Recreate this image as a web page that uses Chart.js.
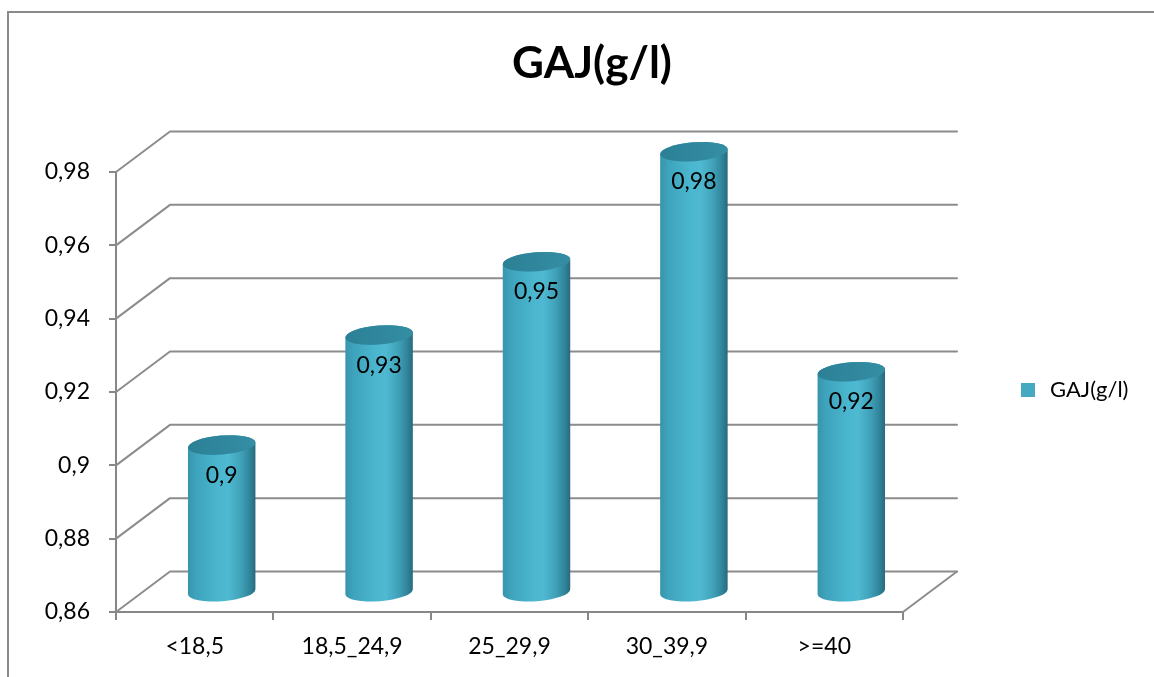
<!DOCTYPE html>
<html>
<head>
<meta charset="utf-8">
<script src="https://cdn.jsdelivr.net/npm/chart.js@4.4.1/dist/chart.umd.min.js"></script>
<style>
  html, body { margin: 0; padding: 0; background: #ffffff; }
  canvas { display: block; }
</style>
</head>
<body>
<canvas id="chart" width="1154" height="677"></canvas>
<script>
// Chart data
const categories = ['<18,5', '18,5_24,9', '25_29,9', '30_39,9', '>=40'];
const gajValues = [0.90, 0.93, 0.95, 0.98, 0.92];
const yTickValues = [0.86, 0.88, 0.90, 0.92, 0.94, 0.96, 0.98];
const seriesName = 'GAJ(g/l)';
const chartTitle = 'GAJ(g/l)';

// Styling
const FONT = 'Lato, "Open Sans", sans-serif';
const AXIS_GREY = '#878787';
const WALL_GREY = '#8c8c8c';
const LEGEND_COLOR = '#46a9c2';
const DEPTH_X = 54;      // horizontal depth of the 3D box
const DEPTH_Y = -40.5;   // vertical depth of the 3D box

function fmt(v) {
  return String(Number(v.toFixed(2))).replace('.', ',');
}

// Back wall, floor, cylinders, title, legend and outer frame
const box3d = {
  id: 'box3d',
  beforeDatasetsDraw(chart) {
    const { ctx, chartArea: a, scales: { y } } = chart;
    ctx.save();
    ctx.strokeStyle = WALL_GREY;
    ctx.lineWidth = 2;
    ctx.lineCap = 'round';
    ctx.lineJoin = 'round';
    yTickValues.forEach(v => {
      const py = y.getPixelForValue(v);
      ctx.beginPath();
      ctx.moveTo(a.left, py);
      ctx.lineTo(a.left + DEPTH_X, py + DEPTH_Y);
      ctx.lineTo(a.right + DEPTH_X, py + DEPTH_Y);
      ctx.stroke();
    });
    // right edge of the floor
    ctx.beginPath();
    ctx.moveTo(a.right, a.bottom);
    ctx.lineTo(a.right + DEPTH_X, a.bottom + DEPTH_Y);
    ctx.stroke();
    ctx.restore();
  },
  afterDatasetsDraw(chart) {
    const { ctx, scales: { y } } = chart;
    const meta = chart.getDatasetMeta(0);
    const rot = -0.08;
    const floorY = y.getPixelForValue(y.min);
    meta.data.forEach((el, i) => {
      const cx = el.x + DEPTH_X / 2;
      const rx = el.width / 2;
      const ry = 9.5;
      const top = el.y + DEPTH_Y / 2;
      const base = floorY + DEPTH_Y / 2;

      ctx.save();
      // body
      const g = ctx.createLinearGradient(cx - rx, 0, cx + rx, 0);
      g.addColorStop(0.00, '#3795ac');
      g.addColorStop(0.12, '#3ea3bc');
      g.addColorStop(0.45, '#4bb6cf');
      g.addColorStop(0.60, '#4eb9d1');
      g.addColorStop(0.78, '#40a2b9');
      g.addColorStop(0.92, '#30839a');
      g.addColorStop(1.00, '#276a7b');
      ctx.beginPath();
      ctx.ellipse(cx, base, rx, ry, rot, Math.PI, 0, true);
      ctx.ellipse(cx, top, rx, ry, rot, 0, Math.PI, true);
      ctx.closePath();
      ctx.fillStyle = g;
      ctx.fill();

      // top cap
      const gt = ctx.createLinearGradient(cx - rx, top, cx + rx, top);
      gt.addColorStop(0, '#2c8096');
      gt.addColorStop(1, '#348ea4');
      ctx.beginPath();
      ctx.ellipse(cx, top, rx, ry, rot, 0, Math.PI * 2);
      ctx.fillStyle = gt;
      ctx.fill();

      // value label
      ctx.fillStyle = '#000000';
      ctx.font = '23px ' + FONT;
      ctx.textAlign = 'center';
      ctx.textBaseline = 'middle';
      ctx.fillText(fmt(gajValues[i]), cx, el.y + 10);
      ctx.restore();
    });
  },
  afterDraw(chart) {
    const { ctx } = chart;
    ctx.save();
    // outer frame
    ctx.strokeStyle = '#8a8a8a';
    ctx.lineWidth = 2;
    ctx.beginPath();
    ctx.moveTo(8, 700);
    ctx.lineTo(8, 12);
    ctx.lineTo(1160, 12);
    ctx.stroke();

    // title
    ctx.fillStyle = '#000000';
    ctx.font = 'bold 44px ' + FONT;
    ctx.textAlign = 'center';
    ctx.textBaseline = 'alphabetic';
    ctx.fillText(chartTitle, 592, 78);

    // legend
    ctx.fillStyle = LEGEND_COLOR;
    ctx.fillRect(1021, 383, 14, 14);
    ctx.fillStyle = '#000000';
    ctx.font = '22px ' + FONT;
    ctx.textAlign = 'left';
    ctx.fillText(seriesName, 1050, 397);
    ctx.restore();
  }
};

new Chart(document.getElementById('chart'), {
  type: 'bar',
  data: {
    labels: categories,
    datasets: [{
      label: seriesName,
      data: gajValues,
      backgroundColor: 'rgba(0,0,0,0)',
      borderWidth: 0,
      barPercentage: 0.43,
      categoryPercentage: 1
    }]
  },
  options: {
    responsive: false,
    animation: false,
    layout: { padding: { left: 0, top: 172, right: 251, bottom: 0 } },
    plugins: {
      legend: { display: false },
      title: { display: false },
      tooltip: { enabled: false }
    },
    scales: {
      x: {
        afterFit(scale) { scale.height = 65; },
        grid: {
          display: true,
          offset: true,
          drawOnChartArea: false,
          drawTicks: true,
          tickLength: 8,
          color: AXIS_GREY,
          lineWidth: 2
        },
        border: { display: true, color: AXIS_GREY, width: 2 },
        ticks: {
          color: '#000000',
          font: { family: FONT, size: 23 },
          padding: 13,
          maxRotation: 0
        }
      },
      y: {
        min: 0.86,
        max: 0.98,
        afterFit(scale) { scale.width = 116; },
        afterBuildTicks(scale) {
          scale.ticks = yTickValues.map(v => ({ value: v }));
        },
        grid: {
          display: true,
          drawOnChartArea: false,
          drawTicks: true,
          tickLength: 7,
          color: AXIS_GREY,
          lineWidth: 2
        },
        border: { display: true, color: AXIS_GREY, width: 2 },
        ticks: {
          color: '#000000',
          font: { family: FONT, size: 23 },
          padding: 19,
          callback: v => fmt(v)
        }
      }
    }
  },
  plugins: [box3d]
});
</script>
</body>
</html>
